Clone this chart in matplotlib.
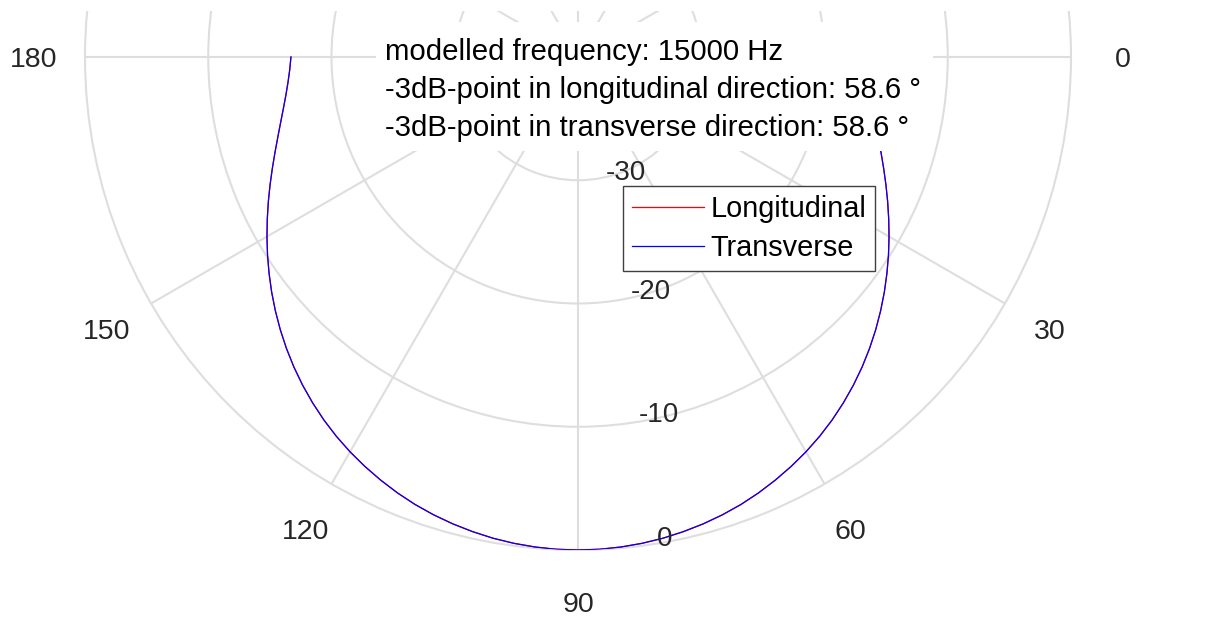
import numpy as np
import matplotlib
matplotlib.use("Agg")
import matplotlib.pyplot as plt
from matplotlib.patches import Rectangle

plt.rcParams['font.family'] = ['Liberation Sans', 'DejaVu Sans']

# directivity, every 2.5 degrees from 0 to 180 (dB)
angles_deg = [i * 2.5 for i in range(73)]
longitudinal_db = [-16.71, -16.59, -16.38, -16.09, -15.72, -15.28, -14.78, -14.22, -13.61,
                   -12.96, -12.28, -11.58, -10.86, -10.13, -9.40, -8.67, -7.95, -7.24,
                   -6.55, -5.88, -5.24, -4.63, -4.05, -3.51, -3.01, -2.55, -2.12, -1.72,
                   -1.36, -1.05, -0.78, -0.55, -0.35, -0.20, -0.09, -0.02, 0.0,
                   -0.02, -0.09, -0.20, -0.35, -0.55, -0.78, -1.05, -1.36, -1.72, -2.12,
                   -2.55, -3.01, -3.51, -4.05, -4.63, -5.24, -5.88, -6.55, -7.24, -7.95,
                   -8.67, -9.40, -10.13, -10.86, -11.58, -12.28, -12.96, -13.61, -14.22,
                   -14.78, -15.28, -15.72, -16.09, -16.38, -16.59, -16.71]
transverse_db = list(longitudinal_db)

r_ticks = [-30, -20, -10, 0]
theta_ticks = [0, 30, 60, 90, 120, 150, 180]
info_lines = ["modelled frequency: 15000 Hz",
              "-3dB-point in longitudinal direction: 58.6 \u00b0",
              "-3dB-point in transverse direction: 58.6 \u00b0"]

W, H = 1208, 617
GRID = '#dedede'
TXT = '#262626'


def make_plot():
    fig = plt.figure(figsize=(W / 100, H / 100), dpi=100)

    # polar axes: centre at (578, 57) px from top-left, radius 493 px
    cx, cy, rad = 578, H - 57, 493
    ax = fig.add_axes([(cx - rad) / W, (cy - rad) / H, 2 * rad / W, 2 * rad / H],
                      projection='polar')
    ax.set_theta_zero_location('E')
    ax.set_theta_direction(-1)
    ax.set_rlim(-40, 0)
    ax.set_rgrids(r_ticks[:-1], labels=[''] * 3)
    ax.set_thetagrids(np.arange(0, 360, 30), labels=[''] * 12)
    ax.grid(True, color=GRID, linewidth=1.5)
    ax.spines['polar'].set_color(GRID)
    ax.spines['polar'].set_linewidth(1.5)
    ax.set_facecolor('none')

    th = np.deg2rad(angles_deg)
    ax.plot(th, longitudinal_db, color='red', linewidth=0.9, label='Longitudinal', zorder=3)
    ax.plot(th, transverse_db, color='blue', linewidth=0.9, label='Transverse', zorder=3)

    # angle labels outside the outer circle
    for t in theta_ticks:
        ax.text(np.deg2rad(t), 4.2, str(t), ha='center', va='center_baseline',
                fontsize=20.5, color=TXT)

    # radius labels
    rl_ang = [67.6, 72.8, 77.2, 79.8]
    rl_off = [0.2, 0.0, -0.2, -0.3]
    for a, v, o in zip(rl_ang, r_ticks, rl_off):
        ax.text(np.deg2rad(a), v + o, str(v), ha='center', va='center',
                fontsize=20, color=TXT, zorder=4)

    # white background behind the info text
    fig.patches.append(Rectangle((376 / W, 1 - 151 / H), (933 - 376) / W, (151 - 22) / H,
                                 transform=fig.transFigure, facecolor='white',
                                 edgecolor='none', zorder=5))
    fig.patches.append(Rectangle((0, 1 - 11 / H), 1, 11 / H, transform=fig.transFigure,
                                 facecolor='white', edgecolor='none', zorder=5))
    for i, line in enumerate(info_lines):
        fig.text(385 / W, 1 - (60.5 + 38 * i) / H, line, fontsize=21.2,
                 ha='left', va='baseline', color='black', zorder=6)

    leg = ax.legend(loc='upper left', bbox_to_anchor=(623 / W, 1 - 186 / H),
                    bbox_transform=fig.transFigure, borderaxespad=0,
                    fontsize=20.8, frameon=True, fancybox=False, framealpha=1,
                    edgecolor='#404040', handlelength=2.5, handletextpad=0.22,
                    borderpad=0.3, labelspacing=0.4)
    leg.get_frame().set_linewidth(1.0)
    leg.set_zorder(7)

    fig.savefig('out.png', dpi=100)


if __name__ == '__main__':
    make_plot()
